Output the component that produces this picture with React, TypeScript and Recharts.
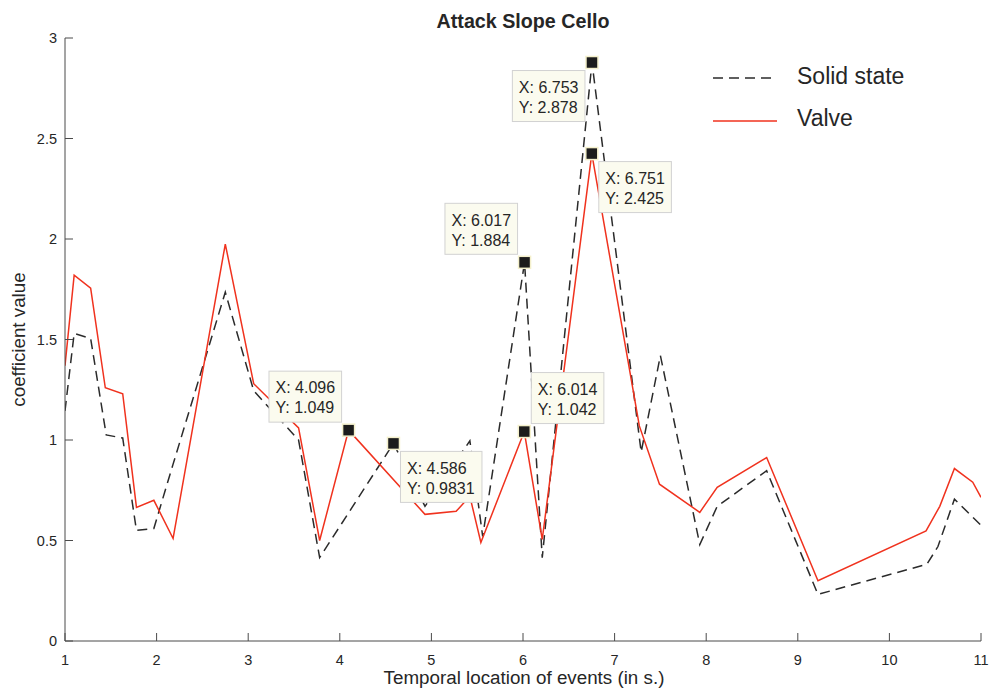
import { LineChart, Line, XAxis, YAxis, ReferenceDot, Legend } from 'recharts';

// event times (s) and attack slope coefficients, per amp type
const solidTimes = [1.0, 1.1, 1.28, 1.45, 1.63, 1.78, 1.97, 2.18, 2.75, 3.06, 3.55, 3.78, 4.586, 4.93, 5.42, 5.56, 6.017, 6.21, 6.753, 7.29, 7.5, 7.93, 8.12, 8.66, 9.22, 10.41, 10.53, 10.71, 11.0];
const solidValues = [1.145, 1.53, 1.505, 1.025, 1.01, 0.55, 0.56, 0.88, 1.735, 1.245, 1.0, 0.415, 0.9831, 0.67, 0.996, 0.52, 1.884, 0.415, 2.878, 0.94, 1.42, 0.48, 0.67, 0.847, 0.232, 0.382, 0.47, 0.706, 0.576];

const valveTimes = [1.0, 1.1, 1.28, 1.44, 1.63, 1.78, 1.97, 2.18, 2.75, 3.06, 3.55, 3.78, 4.096, 4.93, 5.27, 5.42, 5.54, 6.014, 6.21, 6.751, 7.27, 7.49, 7.93, 8.12, 8.66, 9.22, 10.4, 10.55, 10.71, 10.91, 11.0];
const valveValues = [1.37, 1.82, 1.755, 1.26, 1.23, 0.665, 0.7, 0.51, 1.975, 1.28, 1.06, 0.5, 1.049, 0.63, 0.645, 0.72, 0.49, 1.042, 0.505, 2.425, 1.07, 0.78, 0.64, 0.765, 0.913, 0.3, 0.548, 0.67, 0.858, 0.79, 0.715];

const xTicks = [1, 2, 3, 4, 5, 6, 7, 8, 9, 10, 11];
const yTicks = [0, 0.5, 1, 1.5, 2, 2.5, 3];

// data cursor readouts
const tipX = [4.096, 4.586, 6.017, 6.014, 6.753, 6.751];
const tipY = [1.049, 0.9831, 1.884, 1.042, 2.878, 2.425];
const tipLabelX = ['4.096', '4.586', '6.017', '6.014', '6.753', '6.751'];
const tipLabelY = ['1.049', '0.9831', '1.884', '1.042', '2.878', '2.425'];
const tipPlacement = ['left-above', 'right-below', 'left-above', 'right-above', 'left-below', 'right-below'];

const legendNames = ['Solid state', 'Valve'];

const FONT = '"Liberation Sans", Arial, Helvetica, sans-serif';
const TEXT = '#262626';
const AXIS = '#4a4a4a';
const RED = '#f0321e';
const DARK = '#2b2b2b';

const solidData = solidTimes.map((t, i) => ({ t, v: solidValues[i] }));
const valveData = valveTimes.map((t, i) => ({ t, v: valveValues[i] }));

const charW: Record<string, number> = { X: 0.667, Y: 0.667, ':': 0.278, ' ': 0.278, '.': 0.278 };
const textWidth = (s: string, size: number) =>
  s.split('').reduce((w, c) => w + (charW[c] ?? 0.556), 0) * size;

function DataTip({ cx, cy, idx }: { cx: number; cy: number; idx: number }) {
  const l1 = `X: ${tipLabelX[idx]}`;
  const l2 = `Y: ${tipLabelY[idx]}`;
  const fs = 16;
  const w = Math.max(textWidth(l1, fs), textWidth(l2, fs)) + 13;
  const h = 51;
  const [side, vert] = tipPlacement[idx].split('-');
  const bx = side === 'left' ? cx - 7 - w : cx + 7;
  const by = vert === 'above' ? cy - 8 - h : cy + 8;
  return (
    <g>
      <rect x={bx} y={by} width={w} height={h} fill="#fbfbef" stroke="#d2d2d2" strokeWidth={1} />
      <text x={bx + 6.5} y={by + 22.3} fontFamily={FONT} fontSize={fs} fill={TEXT}>{l1}</text>
      <text x={bx + 6.5} y={by + 42.3} fontFamily={FONT} fontSize={fs} fill={TEXT}>{l2}</text>
      <rect x={cx - 6} y={cy - 6} width={12} height={12} fill="#1c1c1c" stroke="#f4f0cc" strokeWidth={1.5} />
    </g>
  );
}

function LegendBox() {
  return (
    <div style={{ fontFamily: FONT, fontSize: 23, color: TEXT }}>
      {legendNames.map((name, i) => (
        <div key={name} style={{ display: 'flex', alignItems: 'center', height: 42 }}>
          <svg width={80} height={42}>
            <line
              x1={8}
              x2={72}
              y1={i === 0 ? 23 : 24}
              y2={i === 0 ? 23 : 24}
              stroke={i === 0 ? DARK : RED}
              strokeWidth={1.5}
              strokeDasharray={i === 0 ? '10 6' : undefined}
            />
          </svg>
          <span style={{ marginLeft: 12, lineHeight: 1 }}>{name}</span>
        </div>
      ))}
    </div>
  );
}

export default function App() {
  const tickStyle = { fontFamily: FONT, fontSize: 14.5, fill: TEXT };
  return (
    <div style={{ position: 'absolute', left: 0, top: 0, width: 990, height: 693, background: '#fff' }}>
      <LineChart width={990} height={693} margin={{ top: 38, right: 9, bottom: 0, left: 0 }}>
        <XAxis
          type="number"
          dataKey="t"
          domain={[1, 11]}
          ticks={xTicks}
          allowDataOverflow
          height={52}
          tickSize={-8}
          tickMargin={22}
          tick={tickStyle}
          stroke={AXIS}
          tickLine={{ stroke: AXIS }}
        />
        <YAxis
          type="number"
          domain={[0, 3]}
          ticks={yTicks}
          allowDataOverflow
          width={65}
          tickSize={-8}
          tickMargin={16}
          tick={tickStyle}
          stroke={AXIS}
          tickLine={{ stroke: AXIS }}
        />
        <Legend
          layout="horizontal"
          verticalAlign="middle"
          content={() => <LegendBox />}
          wrapperStyle={{ top: 55, left: 705, width: 240 }}
        />
        <Line
          data={solidData}
          dataKey="v"
          type="linear"
          stroke={DARK}
          strokeWidth={1.5}
          strokeDasharray="10 6"
          dot={false}
          isAnimationActive={false}
        />
        <Line
          data={valveData}
          dataKey="v"
          type="linear"
          stroke={RED}
          strokeWidth={1.5}
          dot={false}
          isAnimationActive={false}
        />
        {tipX.map((x, i) => (
          <ReferenceDot
            key={`tip-${i}`}
            x={x}
            y={tipY[i]}
            r={6}
            ifOverflow="visible"
            shape={(p: any) => <DataTip cx={p.cx} cy={p.cy} idx={i} />}
          />
        ))}
      </LineChart>
      <svg width={990} height={693} style={{ position: 'absolute', left: 0, top: 0, pointerEvents: 'none' }}>
        <text x={523} y={28.3} textAnchor="middle" fontFamily={FONT} fontSize={19.7} fontWeight="bold" fill={TEXT}>
          Attack Slope Cello
        </text>
        <text x={524} y={684} textAnchor="middle" fontFamily={FONT} fontSize={18.8} fill={TEXT}>
          Temporal location of events (in s.)
        </text>
        <text x={25} y={339.5} textAnchor="middle" fontFamily={FONT} fontSize={18.8} fill={TEXT} transform="rotate(-90 25 339.5)">
          coefficient value
        </text>
      </svg>
    </div>
  );
}
